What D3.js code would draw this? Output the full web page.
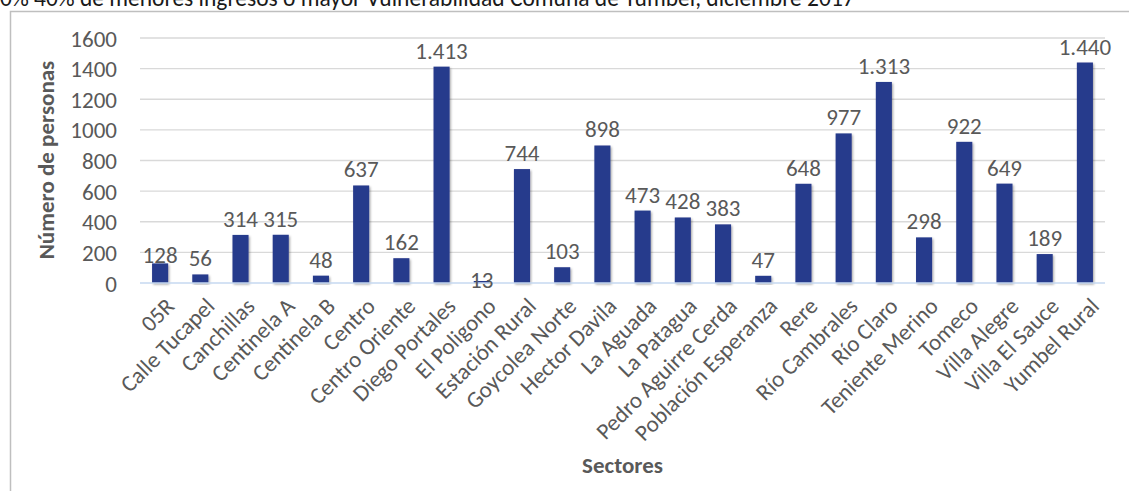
<!DOCTYPE html>
<html>
<head>
<meta charset="utf-8">
<script src="https://cdn.jsdelivr.net/npm/d3@7"></script>
<style>
  html, body { margin: 0; padding: 0; background: #fff; overflow: hidden; }
  svg { display: block; }
  text { font-family: Carlito, Lato, "Open Sans", sans-serif; }
</style>
</head>
<body>
<svg id="chart" width="1129" height="491"></svg>
<script>
const categories = ["05R", "Calle Tucapel", "Canchillas", "Centinela A", "Centinela B", "Centro",
  "Centro Oriente", "Diego Portales", "El Poligono", "Estación Rural", "Goycolea Norte", "Hector Davila",
  "La Aguada", "La Patagua", "Pedro Aguirre Cerda", "Población Esperanza", "Rere", "Río Cambrales",
  "Río Claro", "Teniente Merino", "Tomeco", "Villa Alegre", "Villa El Sauce", "Yumbel Rural"];
const values = [128, 56, 314, 315, 48, 637, 162, 1413, 13, 744, 103, 898, 473, 428, 383, 47, 648, 977,
  1313, 298, 922, 649, 189, 1440];
const yTicks = [0, 200, 400, 600, 800, 1000, 1200, 1400, 1600];
const titleText = "0% 40% de menores ingresos o mayor Vulnerabilidad Comuna de Yumbel, diciembre 2017";
const yTitle = "Número de personas";
const xTitle = "Sectores";

const svg = d3.select("#chart");
const plot = { left: 140, right: 1105, top: 38, bottom: 283 };
const FS = 23;

const x = d3.scaleBand().domain(categories).range([plot.left, plot.right]).paddingInner(0.6).paddingOuter(0.3);
const y = d3.scaleLinear().domain([0, 1600]).range([plot.bottom, plot.top]);
const esLocale = d3.formatLocale({ decimal: ",", thousands: ".", grouping: [3], currency: ["$", ""] });
const fmt = esLocale.format(",d");

const defs = svg.append("defs");
const f = defs.append("filter").attr("id", "shadow").attr("x", "-30%").attr("y", "-10%").attr("width", "160%").attr("height", "130%");
f.append("feDropShadow").attr("dx", 1.2).attr("dy", 1.5).attr("stdDeviation", 1.3).attr("flood-color", "#000").attr("flood-opacity", 0.35);

// chart border
svg.append("rect").attr("x", 10.5).attr("y", 11.5).attr("width", 1300).attr("height", 700)
  .attr("fill", "none").attr("stroke", "#bfbfbf").attr("stroke-width", 1.5);

// title (cut at top as in the reference)
svg.append("text").attr("x", 0).attr("y", 6).attr("font-size", 23.5).attr("fill", "#1a1a1a").text(titleText);

// gridlines
svg.append("g").selectAll("line").data(yTicks.filter(d => d > 0)).join("line")
  .attr("x1", plot.left).attr("x2", plot.right)
  .attr("y1", d => y(d)).attr("y2", d => y(d))
  .attr("stroke", "#d9d9d9").attr("stroke-width", 1.3);

// y axis labels
const yAxis = d3.axisLeft(y).tickValues(yTicks).tickSize(0).tickPadding(0).tickFormat(d3.format("d"));
const yg = svg.append("g").attr("transform", `translate(117,0)`).call(yAxis);
yg.select(".domain").remove();
yg.selectAll("text").attr("font-size", FS).attr("fill", "#595959").attr("dy", "0.35em")
  .style("font-family", "Carlito, Lato, sans-serif");

// bars
svg.append("g").selectAll("rect").data(values).join("rect")
  .attr("x", (d, i) => x(categories[i]))
  .attr("width", x.bandwidth())
  .attr("y", d => y(d))
  .attr("height", d => y(0) - y(d))
  .attr("fill", "#283a8c")
  .attr("filter", "url(#shadow)");

// baseline
svg.append("line").attr("x1", plot.left).attr("x2", plot.right)
  .attr("y1", y(0)).attr("y2", y(0)).attr("stroke", "#c6d9f0").attr("stroke-width", 1.6);

// data labels
const nudge = { "05R": 8, "El Poligono": 15 };
svg.append("g").selectAll("text").data(values).join("text")
  .attr("x", (d, i) => x(categories[i]) + x.bandwidth() / 2)
  .attr("y", (d, i) => y(d) - 8 + (nudge[categories[i]] || 0))
  .attr("text-anchor", "middle").attr("font-size", FS).attr("fill", "#595959")
  .text(d => fmt(d));

// x axis category labels
const xAxis = d3.axisBottom(x).tickSize(0).tickPadding(0);
const xg = svg.append("g").attr("transform", `translate(0,${plot.bottom})`).call(xAxis);
xg.select(".domain").remove();
xg.selectAll("text")
  .attr("font-size", FS).attr("fill", "#595959")
  .attr("text-anchor", "end")
  .attr("y", null)
  .attr("transform", "translate(4,13) rotate(-45)")
  .attr("dy", "0.71em")
  .style("font-family", "Carlito, Lato, sans-serif");

// axis titles
svg.append("text").attr("transform", "translate(54,160) rotate(-90)")
  .attr("text-anchor", "middle").attr("font-size", FS).attr("font-weight", "bold").attr("fill", "#595959")
  .text(yTitle);
svg.append("text").attr("x", (plot.left + plot.right) / 2).attr("y", 473)
  .attr("text-anchor", "middle").attr("font-size", FS).attr("font-weight", "bold").attr("fill", "#595959")
  .text(xTitle);
</script>
</body>
</html>
